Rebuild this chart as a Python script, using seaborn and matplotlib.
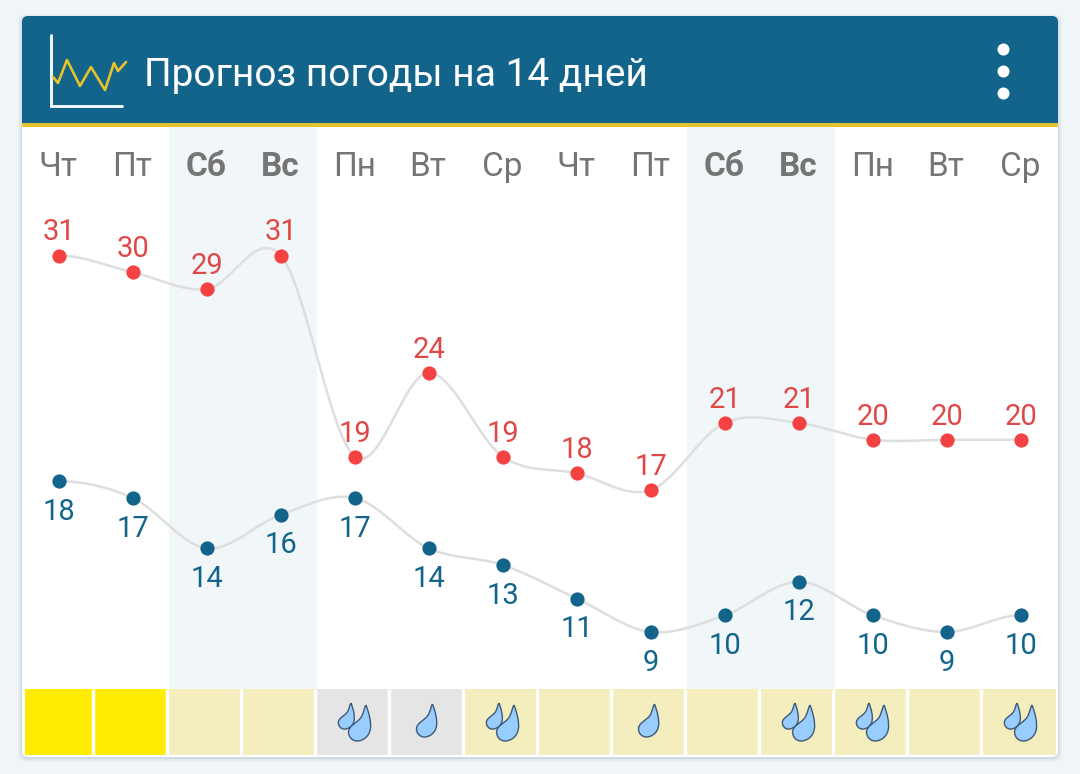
import numpy as np
import pandas as pd
import seaborn as sns
import matplotlib.pyplot as plt
from matplotlib.patches import FancyBboxPatch, PathPatch, Rectangle
from matplotlib.path import Path
from matplotlib.transforms import Affine2D
from matplotlib.colors import ListedColormap

TITLE = "Прогноз погоды на 14 дней"
days = ["Чт", "Пт", "Сб", "Вс", "Пн", "Вт", "Ср", "Чт", "Пт", "Сб", "Вс", "Пн", "Вт", "Ср"]
highs = [31, 30, 29, 31, 19, 24, 19, 18, 17, 21, 21, 20, 20, 20]
lows = [18, 17, 14, 16, 17, 14, 13, 11, 9, 10, 12, 10, 9, 10]
# 0 - bright yellow, 1 - pale yellow, 2 - grey
cell_kind = [0, 0, 1, 1, 2, 2, 1, 1, 1, 1, 1, 1, 1, 1]
drops = [0, 0, 0, 0, 2, 1, 2, 0, 1, 0, 2, 2, 0, 2]
weekends = [(2, 3), (9, 10)]

W, H = 1080, 774
BLUE = "#12648a"
RED = "#f44242"
RED_TEXT = "#e04848"
GREY_TEXT = "#757575"
LINE = "#dedede"

# pixel layout of the plot
X0, DX = 58.7, 74
PLOT_TOP, PLOT_BOTTOM = 127, 689
PLOT_LEFT, PLOT_RIGHT = 22, 1058
Y_31, PX_PER_DEG = 255.5, 16.75
LOW_SHIFT = 8
CELL_LEFT = 19.5

sns.set_theme(style="white")
plt.rcParams["font.family"] = ["Roboto", "DejaVu Sans"]


def px_axes(fig, left, top, right, bottom, **kw):
    return fig.add_axes([left / W, 1 - bottom / H, (right - left) / W, (bottom - top) / H], **kw)


def smooth(values, n=24, tension=0.5):
    # cardinal spline through the daily values, only for the grey line
    y = np.asarray(values, dtype=float)
    m = np.zeros_like(y)
    m[1:-1] = tension * (y[2:] - y[:-2])
    xs, ys = [], []
    for i in range(len(y) - 1):
        t = np.linspace(0, 1, n, endpoint=False)
        ys.append((2*t**3 - 3*t**2 + 1) * y[i] + (t**3 - 2*t**2 + t) * m[i]
                  + (-2*t**3 + 3*t**2) * y[i + 1] + (t**3 - t**2) * m[i + 1])
        xs.append(i + t)
    return np.append(np.concatenate(xs), len(y) - 1), np.append(np.concatenate(ys), y[-1])


fig = plt.figure(figsize=(W / 100, H / 100), dpi=100, facecolor="#f0f5f8")

# card, header, icon
page = px_axes(fig, 0, 0, W, H, zorder=0)
page.set_xlim(0, W)
page.set_ylim(H, 0)
page.axis("off")
for grow, alpha in [(4, 0.03), (2.5, 0.05), (1, 0.08)]:
    page.add_patch(FancyBboxPatch((22 - grow, 18 - grow), 1036 + 2 * grow, 740 + 2 * grow,
                                  boxstyle="round,pad=0,rounding_size=7", fc="#30506a", ec="none", alpha=alpha))
page.add_patch(FancyBboxPatch((22, 16), 1036, 741, boxstyle="round,pad=0,rounding_size=6", fc="white", ec="none"))
page.add_patch(FancyBboxPatch((22, 16), 1036, 60, boxstyle="round,pad=0,rounding_size=6", fc=BLUE, ec="none"))
page.add_patch(Rectangle((22, 40), 1036, 83, fc=BLUE, ec="none"))
page.add_patch(Rectangle((22, 122.7), 1036, 4, fc="#e3c232", ec="none"))
page.plot([51, 51, 122], [35, 106, 106], color="#f4f8fa", lw=2.1, solid_joinstyle="miter")
page.plot([53, 58, 67, 80, 91, 105, 114, 118, 126], [77, 83, 60, 86, 67, 90, 63, 71, 62], color="#e8c22a", lw=1.9)
page.text(144, 75, TITLE, color="white", fontsize=28, va="center", ha="left")
page.scatter([1003, 1003, 1003], [49, 71, 93], s=75, color="white", linewidths=0)
for first, last in weekends:
    left = CELL_LEFT + DX * first + 1.5
    page.add_patch(Rectangle((left, PLOT_TOP), DX * (last - first + 1), PLOT_BOTTOM - PLOT_TOP, fc="#f1f6f9", ec="none"))

# temperature curves, the low one sits a few pixels lower on the screen
ax = px_axes(fig, PLOT_LEFT, PLOT_TOP, PLOT_RIGHT, PLOT_BOTTOM, zorder=1)
ax.patch.set_alpha(0)
xlim = ((PLOT_LEFT - X0) / DX, (PLOT_RIGHT - X0) / DX)
ylim_high = (31 - (PLOT_BOTTOM - Y_31) / PX_PER_DEG, 31 + (Y_31 - PLOT_TOP) / PX_PER_DEG)
ylim_low = (ylim_high[0] + LOW_SHIFT / PX_PER_DEG, ylim_high[1] + LOW_SHIFT / PX_PER_DEG)
ax_low = px_axes(fig, PLOT_LEFT, PLOT_TOP, PLOT_RIGHT, PLOT_BOTTOM, zorder=1)
ax_low.patch.set_alpha(0)

series = [
    (ax, highs, RED, RED_TEXT, 23 * 0.72, ylim_high),
    (ax_low, lows, BLUE, BLUE, -30.7 * 0.72, ylim_low),
]
for a, values, dot, text_color, offset, ylim in series:
    frame = pd.DataFrame({"x": range(len(values)), "t": values})
    cx, cy = smooth(values)
    sns.lineplot(x=cx, y=cy, ax=a, color=LINE, lw=1.8, sort=False, estimator=None, zorder=1)
    sns.scatterplot(data=frame, x="x", y="t", ax=a, color=dot, s=105, linewidth=0, zorder=2)
    for i, v in enumerate(values):
        a.annotate(str(v), (i, v), xytext=(0, offset), textcoords="offset points",
                   ha="center", va="center", fontsize=21, color=text_color)
    a.set_xlim(xlim)
    a.set_ylim(ylim)
    a.axis("off")

for i, day in enumerate(days):
    weekend = any(first <= i <= last for first, last in weekends)
    ax.text(i - 0.007, (PLOT_BOTTOM - 167) / (PLOT_BOTTOM - PLOT_TOP), day, transform=ax.get_xaxis_transform(),
            ha="center", va="center", fontsize=24, color=GREY_TEXT, fontweight="bold" if weekend else "normal")

# precipitation strip
strip = px_axes(fig, 25, PLOT_BOTTOM, CELL_LEFT + DX * 14, 755, zorder=2)
sns.heatmap(np.array([cell_kind]), ax=strip, cbar=False, vmin=0, vmax=2,
            cmap=ListedColormap(["#ffec00", "#f4edbd", "#e5e5e5"]),
            xticklabels=False, yticklabels=False)
strip.vlines(np.arange(1, 14) - 0.004, 0, 1, color="white", lw=2.5)
strip.set_xlim((25 - CELL_LEFT) / DX, 14)
strip.set_ylim(1, 0)

DROP = Path(
    [(0, 0), (3, 8), (5, 16), (4, 22), (3, 29), (-3, 33), (-8, 33), (-13, 33), (-16, 29), (-16, 25),
     (-16, 19), (-9, 17), (-5, 12), (-2, 8), (-2, 3), (0, 0)],
    [Path.MOVETO] + [Path.CURVE4] * 15,
)


def add_drop(dx, top, scale, i):
    centre = CELL_LEFT + DX * (i + 0.5)
    tr = Affine2D().scale(scale).translate(centre + dx, top) + page.transData
    strip.add_patch(PathPatch(DROP, fc="#99ccff", ec="#3d5a78", lw=1.0, transform=tr, clip_on=False))


for i, n in enumerate(drops):
    if n == 1:
        add_drop(6, 704, 1.0, i)
    elif n == 2:
        add_drop(-1.5, 703, 0.79, i)
        add_drop(13.5, 705, 1.09, i)

fig.savefig("out.png", dpi=100, facecolor=fig.get_facecolor())
